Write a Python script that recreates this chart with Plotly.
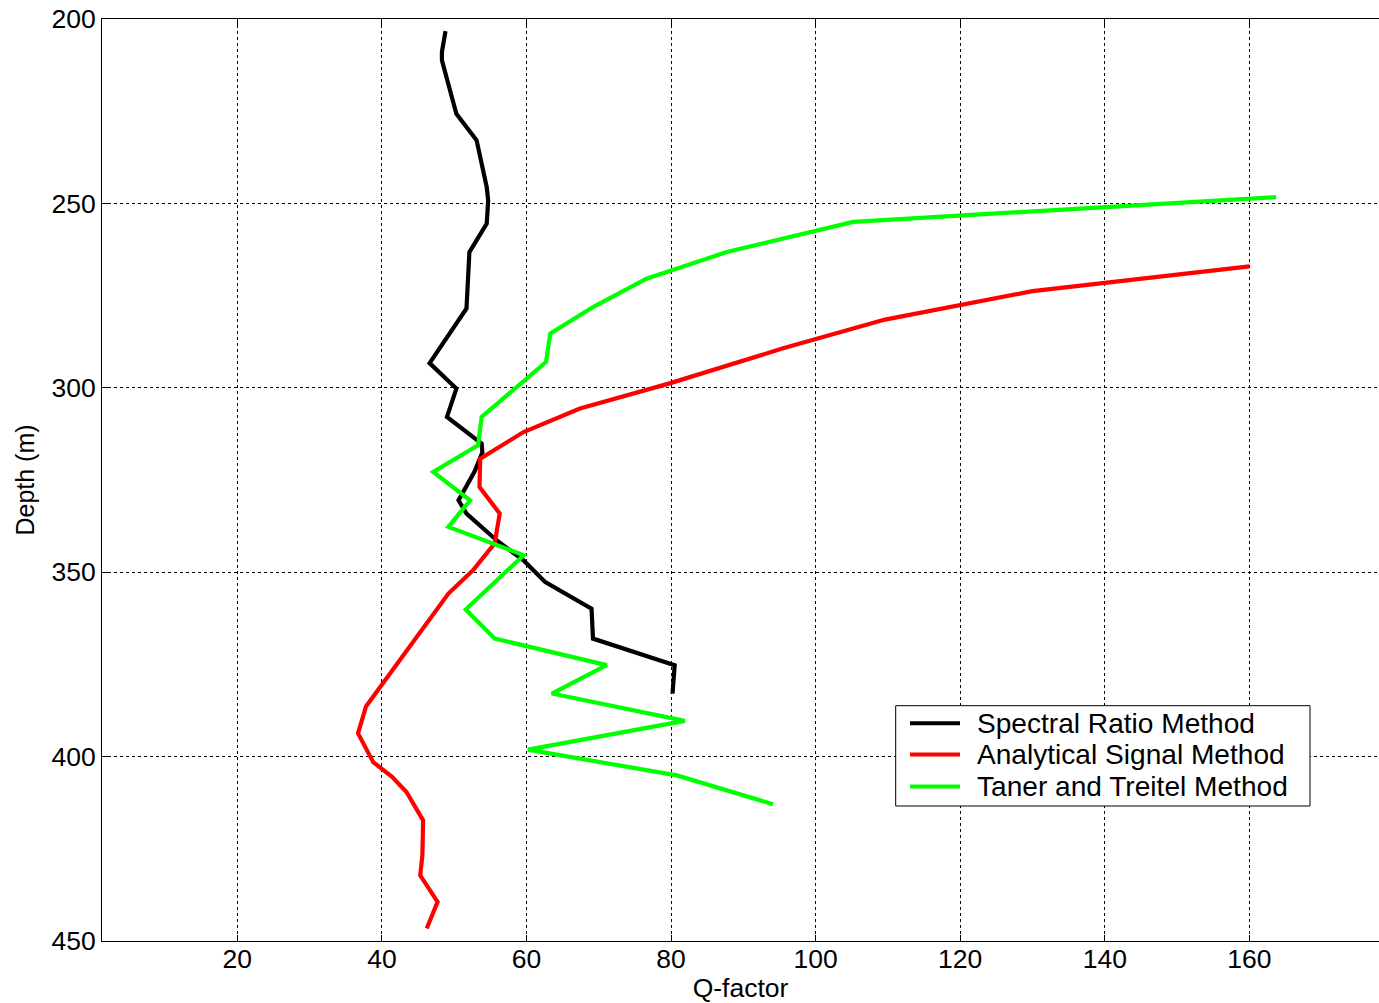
import plotly.graph_objects as go

# ---- data ----
sr_depth = [203.3, 208.9, 211.2, 225.7, 232.9, 245.6, 249.2, 255.5, 263.2, 278.5,
            293.3, 300.2, 307.9, 315.1, 317.5, 322.8, 329.1, 330.5, 334.1, 341.4,
            346.8, 352.7, 359.9, 368.0, 375.2, 382.9]
sr_q = [48.8, 48.3, 48.3, 50.3, 53.1, 54.5, 54.7, 54.5, 52.1, 51.7,
        46.6, 50.3, 49.0, 53.8, 53.9, 52.8, 51.0, 50.6, 51.7, 55.9,
        59.6, 62.6, 69.0, 69.2, 80.5, 80.2]

as_depth = [267.1, 273.8, 281.5, 289.3, 298.8, 305.6, 312.0, 319.2, 326.9, 334.1,
            342.2, 349.5, 355.8, 381.1, 386.4, 393.7, 401.5, 405.5, 409.6, 417.3,
            426.8, 432.2, 439.4, 446.6]
as_q = [160.0, 130.0, 109.6, 95.5, 79.8, 67.4, 59.6, 53.6, 53.5, 56.3,
        55.6, 52.6, 49.2, 39.7, 37.8, 36.7, 38.8, 41.4, 43.4, 45.7,
        45.6, 45.3, 47.7, 46.2]

tt_depth = [248.3, 255.0, 263.2, 270.4, 278.1, 285.3, 293.0, 307.9, 315.6, 322.8,
            330.5, 337.7, 345.4, 360.1, 368.0, 375.2, 382.9, 390.3, 398.1, 405.1,
            412.9]
tt_q = [163.7, 105.2, 87.7, 76.6, 69.2, 63.3, 62.7, 53.8, 53.3, 47.1,
        52.2, 49.2, 59.6, 51.6, 55.6, 71.1, 63.5, 81.9, 60.2, 80.8,
        94.1]

series_names = ["Spectral Ratio Method", "Analytical Signal Method", "Taner and Treitel Method"]
series_colors = ["#000000", "#FF0000", "#00FF00"]

x_ticks = [20, 40, 60, 80, 100, 120, 140, 160]
y_ticks = [200, 250, 300, 350, 400, 450]

FONT = "Arial, Liberation Sans, sans-serif"
W, H = 1379, 1003
ML, MT, MB, MR = 102, 19, 62, 0
PW, PH = W - ML - MR, H - MT - MB


def fx(px):
    return (px - ML) / PW


def fy(py):
    return 1 - (py - MT) / PH


fig = go.Figure()
for name, col, q, d in zip(series_names, series_colors,
                           [sr_q, as_q, tt_q], [sr_depth, as_depth, tt_depth]):
    fig.add_trace(go.Scatter(x=q, y=d, mode="lines", name=name,
                             line=dict(color=col, width=4.2), showlegend=False))

# manual legend (MATLAB-style box)
shapes = [dict(type="rect", xref="paper", yref="paper",
               x0=fx(895.7), x1=fx(1310), y0=fy(806), y1=fy(705.7),
               line=dict(color="black", width=1), fillcolor="white", layer="above")]
annotations = []
rows = [723.3, 754.5, 786.5]
for name, col, ry in zip(series_names, series_colors, rows):
    shapes.append(dict(type="line", xref="paper", yref="paper",
                       x0=fx(910), x1=fx(960), y0=fy(ry), y1=fy(ry),
                       line=dict(color=col, width=4), layer="above"))
    annotations.append(dict(xref="paper", yref="paper", x=fx(975), y=fy(ry),
                            text=name, showarrow=False, xanchor="left", yanchor="middle",
                            font=dict(family=FONT, size=28.1, color="black")))

fig.update_layout(
    width=W, height=H, autosize=False,
    margin=dict(l=ML, r=MR, t=MT, b=MB, pad=0),
    paper_bgcolor="white", plot_bgcolor="white",
    font=dict(family=FONT, size=26, color="black"),
    shapes=shapes, annotations=annotations,
    showlegend=False,
)
fig.update_xaxes(
    range=[1.28, 177.93], tickvals=x_ticks, ticktext=[str(v) for v in x_ticks],
    showgrid=True, gridcolor="black", gridwidth=1, griddash="3px,3px",
    showline=True, linecolor="black", linewidth=1, mirror="ticks",
    ticks="inside", ticklen=6, tickcolor="black", zeroline=False,
    ticklabelstandoff=-6, ticklabeloverflow="allow",
    tickfont=dict(family=FONT, size=26.5, color="black"),
    title=dict(text="Q-factor", font=dict(family=FONT, size=26.5, color="black"), standoff=8),
)
fig.update_yaxes(
    range=[450, 200], tickvals=y_ticks, ticktext=[str(v) for v in y_ticks],
    showgrid=True, gridcolor="black", gridwidth=1, griddash="3px,3px",
    showline=True, linecolor="black", linewidth=1, mirror=False,
    ticks="inside", ticklen=6, tickcolor="black", zeroline=False,
    ticklabeloverflow="allow",
    tickfont=dict(family=FONT, size=26.5, color="black"),
    title=dict(text="Depth (m)", font=dict(family=FONT, size=25, color="black"), standoff=9),
)

fig.write_html(
    "out.html",
    config={"displayModeBar": False},
    post_script=("document.documentElement.style.margin='0';"
                 "document.body.style.margin='0';"
                 "document.body.style.overflow='hidden';"
                 "document.documentElement.style.overflow='hidden';"),
)
